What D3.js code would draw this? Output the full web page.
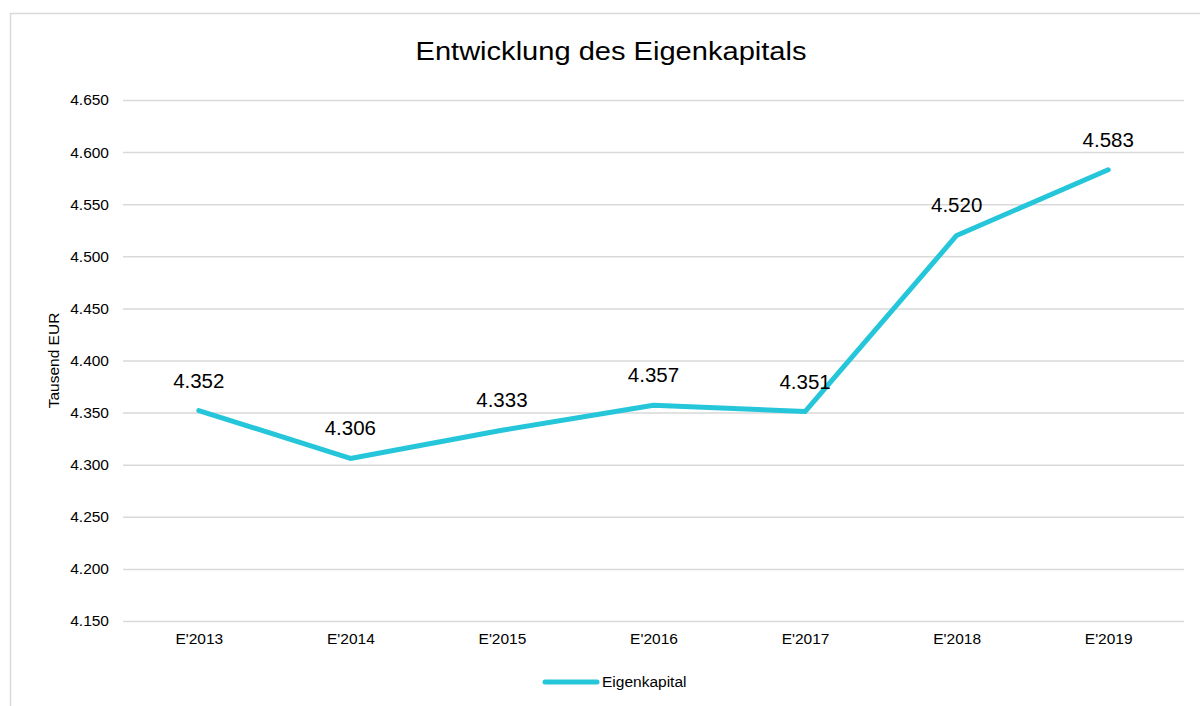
<!DOCTYPE html>
<html>
<head>
<meta charset="utf-8">
<script src="https://cdn.jsdelivr.net/npm/d3@7"></script>
<style>
  body { margin: 0; background: #fff; }
  text { font-family: "Liberation Sans", Arial, sans-serif; fill: #000; }
</style>
</head>
<body>
<svg id="chart"></svg>
<script>
// Chart data
const categories = ["E'2013", "E'2014", "E'2015", "E'2016", "E'2017", "E'2018", "E'2019"];
const values = [4352, 4306, 4333, 4357, 4351, 4520, 4583];
const yTicks = [4150, 4200, 4250, 4300, 4350, 4400, 4450, 4500, 4550, 4600, 4650];
const seriesName = "Eigenkapital";
const titleText = "Entwicklung des Eigenkapitals";
const yTitle = "Tausend EUR";

const width = 1200;
const height = 706;
const margin = {top: 100, right: 16, bottom: 85, left: 123};
const lineColor = "#26c6da";
const gridColor = "#d9d9d9";

// German number format: 4.352
const de = d3.formatLocale({decimal: ",", thousands: ".", grouping: [3], currency: ["", " €"]});
const fmt = de.format(",d");

const svg = d3.select("#chart")
	.attr("width", width)
	.attr("height", height);

// Outer frame (runs past the window on the right and bottom)
svg.append("rect")
	.attr("x", 10.5)
	.attr("y", 13.5)
	.attr("width", 1300)
	.attr("height", 800)
	.attr("fill", "none")
	.attr("stroke", gridColor)
	.attr("stroke-width", 1.5);

const x = d3.scalePoint()
	.domain(categories)
	.range([margin.left, width - margin.right])
	.padding(0.5);

const y = d3.scaleLinear()
	.domain([4150, 4650])
	.range([height - margin.bottom, margin.top]);

// Gridlines and y labels
const yAxis = svg.append("g")
	.attr("transform", `translate(${margin.left},0)`)
	.call(d3.axisLeft(y).tickValues(yTicks).tickFormat(fmt)
		.tickSize(-(width - margin.left - margin.right)).tickPadding(14));
yAxis.select(".domain").remove();
yAxis.selectAll(".tick line").attr("stroke", gridColor).attr("stroke-width", 1.5);
yAxis.selectAll(".tick text").style("font-size", "15.5px").attr("fill", "#000");

// x labels
const xAxis = svg.append("g")
	.attr("transform", `translate(0,${height - margin.bottom})`)
	.call(d3.axisBottom(x).tickSize(0).tickPadding(12));
xAxis.select(".domain").remove();
xAxis.selectAll(".tick text").style("font-size", "15.5px").attr("fill", "#000");

// Title (slightly stretched like the source image)
svg.append("text")
	.attr("x", 611)
	.attr("y", 60)
	.attr("text-anchor", "middle")
	.attr("textLength", 391)
	.attr("lengthAdjust", "spacingAndGlyphs")
	.style("font-size", "25px")
	.text(titleText);

// Y axis title
svg.append("text")
	.attr("transform", `translate(59,${(margin.top + height - margin.bottom) / 2}) rotate(-90)`)
	.attr("text-anchor", "middle")
	.style("font-size", "15.5px")
	.text(yTitle);

// Line
const line = d3.line()
	.x((d, i) => x(categories[i]))
	.y(d => y(d));

svg.append("path")
	.datum(values)
	.attr("fill", "none")
	.attr("stroke", lineColor)
	.attr("stroke-width", 5)
	.attr("stroke-linejoin", "round")
	.attr("stroke-linecap", "round")
	.attr("d", line);

// Data labels
svg.selectAll(".label")
	.data(values)
	.enter()
	.append("text")
	.attr("class", "label")
	.attr("x", (d, i) => x(categories[i]))
	.attr("y", d => y(d) - 23)
	.attr("text-anchor", "middle")
	.style("font-size", "20.5px")
	.text(d => fmt(d));

// Legend
const legend = svg.append("g").attr("transform", "translate(545,682)");
legend.append("line")
	.attr("x1", 0)
	.attr("x2", 52)
	.attr("stroke", lineColor)
	.attr("stroke-width", 5)
	.attr("stroke-linecap", "round");
legend.append("text")
	.attr("x", 57)
	.attr("dy", "0.35em")
	.style("font-size", "15.5px")
	.text(seriesName);
</script>
</body>
</html>
